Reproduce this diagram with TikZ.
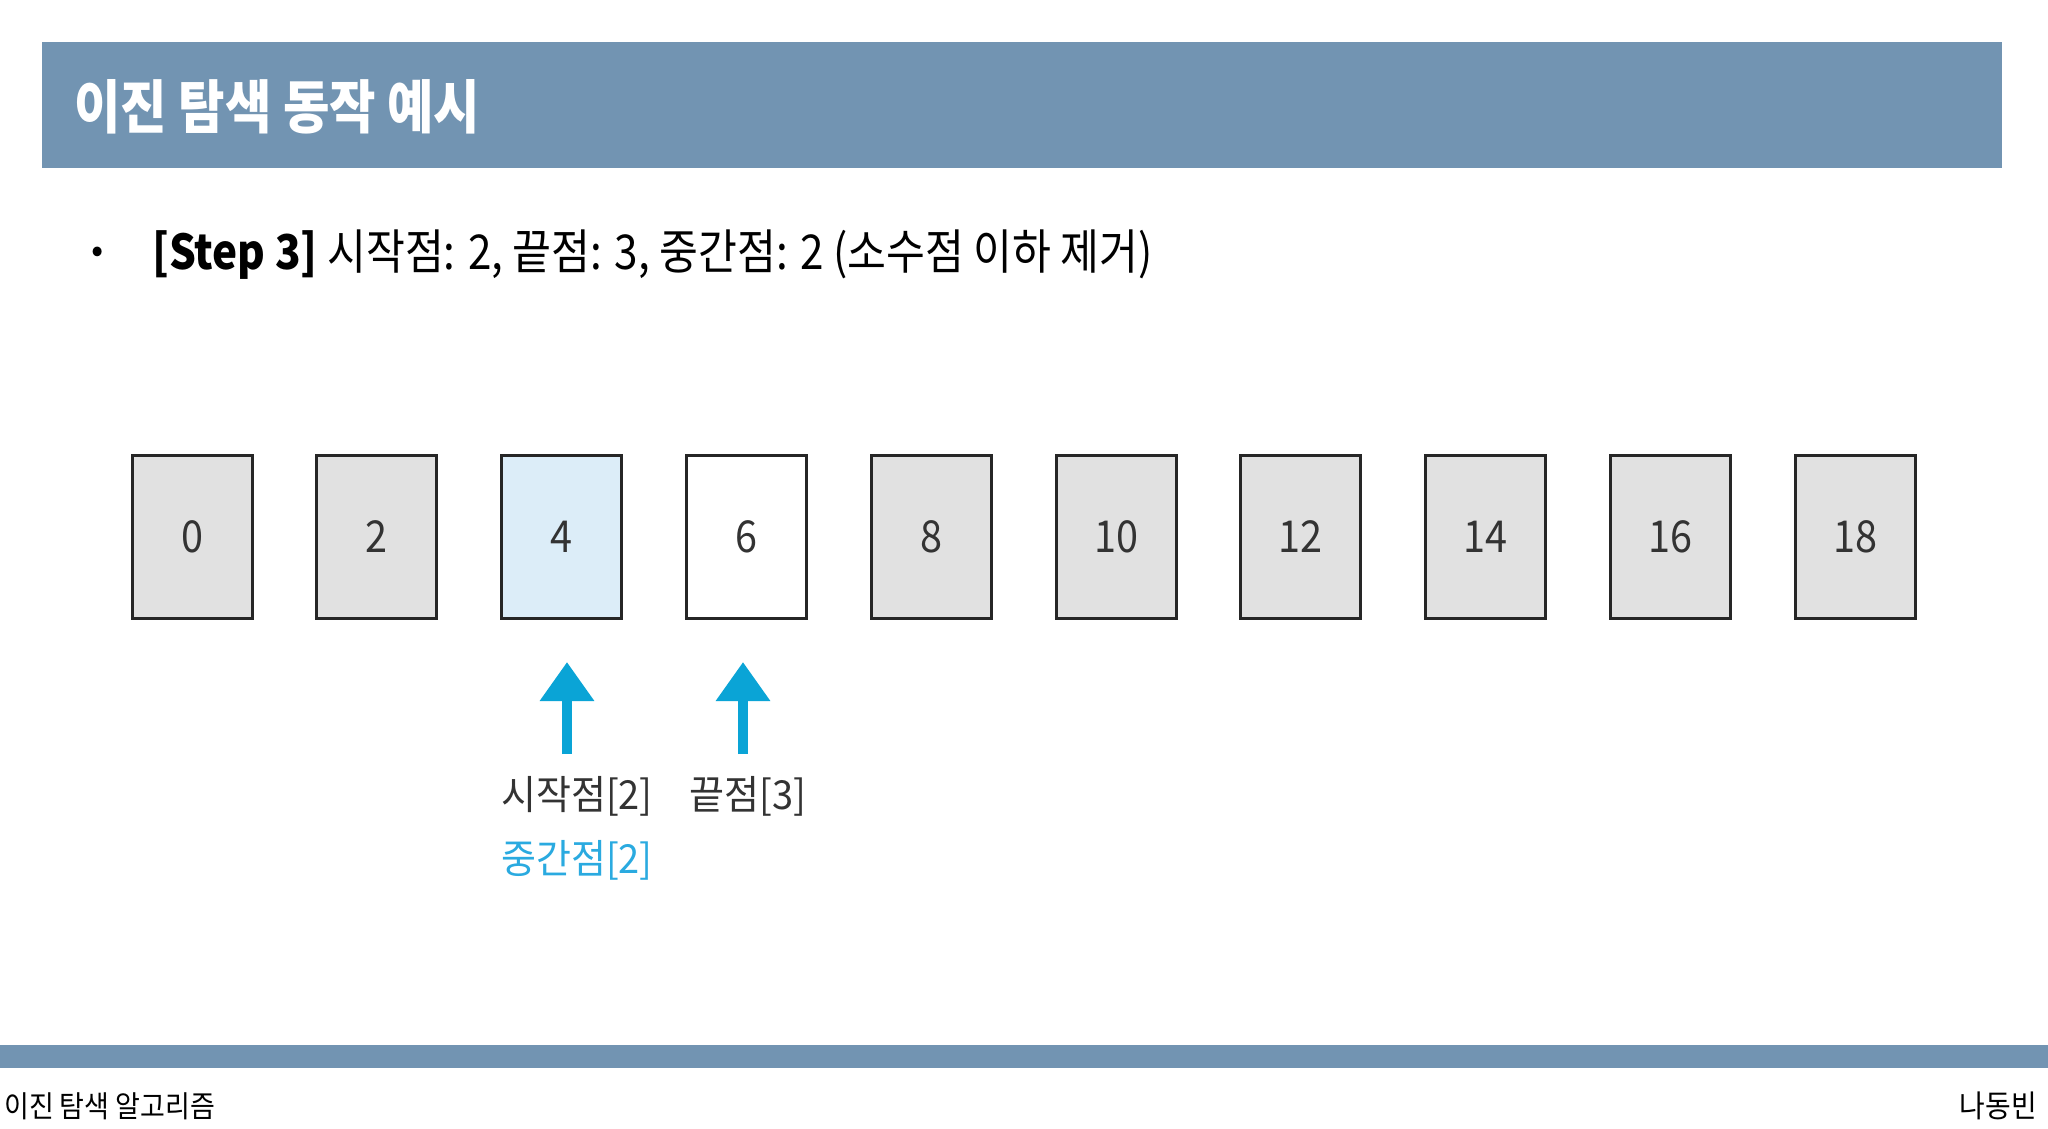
\documentclass[tikz,border=0pt]{standalone}
\usepackage{fontspec}
\setmainfont{Noto Sans CJK KR}
\newfontfamily\krt[FakeStretch=0.87]{Noto Sans CJK KR}
\newfontfamily\krc[FakeStretch=0.88]{Noto Sans CJK KR}
\newfontfamily\krd[FakeStretch=0.90]{Noto Sans CJK KR}
\newfontfamily\krl[FakeStretch=0.95]{Noto Sans CJK KR}
\usetikzlibrary{arrows.meta}
\definecolor{barblue}{HTML}{7294B2}
\definecolor{cellgray}{HTML}{E1E1E1}
\definecolor{cellblue}{HTML}{DCEDF8}
\definecolor{arrowcyan}{HTML}{0AA4D6}
\definecolor{labelcyan}{HTML}{2AAAE0}
\definecolor{textdark}{HTML}{333333}
\tikzset{
  cell/.style={draw=black!85, line width=3pt, minimum width=120pt, minimum height=163pt,
    inner sep=0pt, font=\krd\fontsize{44}{44}\selectfont, text=textdark},
  ptr/.style={arrowcyan, line width=10pt, -{Triangle[width=52pt,length=39pt]}},
  lbl/.style={font=\krl\fontsize{40}{40}\selectfont, inner sep=0pt, anchor=center},
}
\begin{document}
\begin{tikzpicture}[x=1pt,y=-1pt]
\useasboundingbox[fill=white] (0,0) rectangle (2048,1128);
% title bar
\fill[barblue] (42,42) rectangle (2002,168);
\node[anchor=west, inner sep=0pt, text=white, font=\krt\bfseries\fontsize{58}{58}\selectfont] (title) at (74,107) {이진 탐색 동작 예시};
% bullet line
\node[inner sep=0pt, font=\fontsize{36}{36}\selectfont] (bul) at (98,255) {•};
\node[anchor=west, inner sep=0pt, font=\krc\fontsize{48}{48}\selectfont] (step) at (152,255) {\textbf{[Step 3]} 시작점: 2, 끝점: 3, 중간점: 2 (소수점 이하 제거)};
% cells
\foreach \v [count=\i from 0] in {0,2,4,6,8,10,12,14,16,18} {
  \node[cell, fill=cellgray] (c\i) at ({192+184.8*\i},537) {\v};
}
\node[cell, fill=cellblue] at (c2) {4};
\node[cell, fill=white] at (c3) {6};
% arrows
\coordinate (a1s) at (567,754);
\coordinate (a1e) at (567,662);
\coordinate (a2s) at (743,754);
\coordinate (a2e) at (743,662);
\draw[ptr] (a1s) -- (a1e);
\draw[ptr] (a2s) -- (a2e);
% labels
\node[lbl, text=textdark] (l1) at (577,796) {시작점[2]};
\node[lbl, text=textdark] (l2) at (748,796) {끝점[3]};
\node[lbl, text=labelcyan] (l3) at (577,860) {중간점[2]};
% footer
\fill[barblue] (0,1045) rectangle (2048,1068);
\node[anchor=west, inner sep=0pt, font=\krd\fontsize{30}{30}\selectfont] (ft1) at (4,1106) {이진 탐색 알고리즘};
\node[anchor=east, inner sep=0pt, font=\krd\fontsize{31}{31}\selectfont] (ft2) at (2037,1106) {나동빈};
\end{tikzpicture}
\end{document}
